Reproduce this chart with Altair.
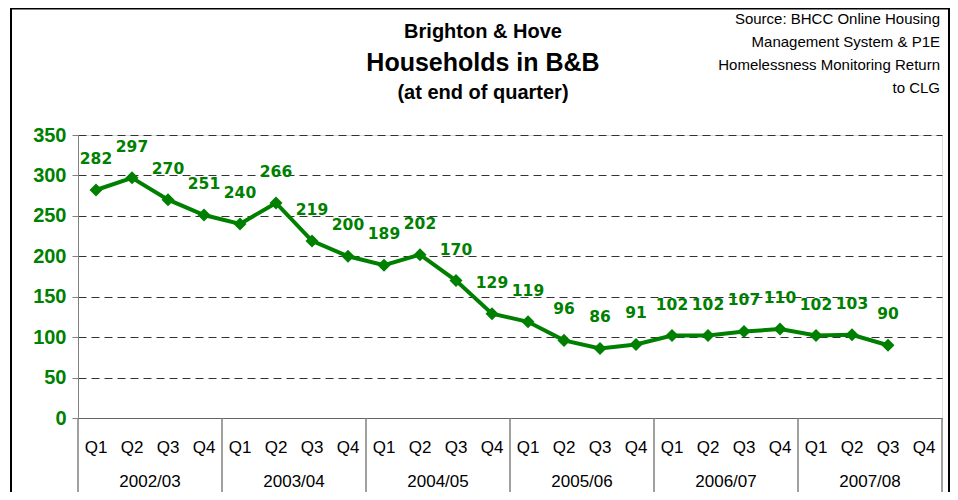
import altair as alt
import pandas as pd

years = ["2002/03", "2003/04", "2004/05", "2005/06", "2006/07", "2007/08"]
quarters = ["Q1", "Q2", "Q3", "Q4"]
values = [282, 297, 270, 251, 240, 266, 219, 200, 189, 202, 170, 129,
          119, 96, 86, 91, 102, 102, 107, 110, 102, 103, 90, None]
y_ticks = [0, 50, 100, 150, 200, 250, 300, 350]
title_lines = ["Brighton & Hove", "Households in B&B", "(at end of quarter)"]
source_lines = ["Source: BHCC Online Housing", "Management System & P1E",
                "Homelessness Monitoring Return", "to CLG"]

rows = []
for i, yr in enumerate(years):
    for j, q in enumerate(quarters):
        rows.append({"key": f"{yr} {q}", "year": yr, "quarter": q,
                     "value": values[i * 4 + j]})
df = pd.DataFrame(rows)
keys = list(df["key"])
dv = df.dropna().copy()

groups = pd.DataFrame({
    "year": years,
    "start": [f"{y} Q1" for y in years],
    "mid": [f"{y} Q2" for y in years],
})
end_df = pd.DataFrame({"end": [keys[-1]]})

GREEN = "#008000"
FONT = "Liberation Sans"

xscale = alt.Scale(type="band", domain=keys, paddingInner=0, paddingOuter=0)
yscale = alt.Scale(domain=[0, 350], nice=False)

x_axis = alt.Axis(title=None, labelExpr="substring(datum.value, 8)", labelAngle=0,
                  ticks=False, tickSize=0, labelPadding=29, labelBaseline="middle",
                  labelFontSize=17, labelColor="black", labelFont=FONT,
                  domainColor="#666666", domainWidth=1, grid=False)
y_axis = alt.Axis(title=None, values=y_ticks, labelFontSize=20, labelFontWeight="bold",
                  labelColor=GREEN, labelFont=FONT, labelPadding=6,
                  grid=True, gridDash=[8, 5], gridColor="#333333", gridWidth=1,
                  domainColor="#808080", tickColor="#808080", tickSize=6)

base = alt.Chart(dv)

line = base.mark_line(color=GREEN, strokeWidth=4).encode(
    x=alt.X("key:N", scale=xscale, sort=keys, axis=x_axis),
    y=alt.Y("value:Q", scale=yscale, axis=y_axis),
)
points = base.mark_point(shape="diamond", filled=True, size=170, color=GREEN,
                         opacity=1).encode(x="key:N", y="value:Q")
labels = base.mark_text(dy=-31, fontSize=15.5, fontWeight="bold", font="DejaVu Sans",
                        color=GREEN, baseline="middle").encode(
    x="key:N", y="value:Q", text=alt.Text("value:Q", format="d"))

seps = alt.Chart(groups).mark_rule(color="#808080", strokeWidth=1.5).encode(
    x=alt.X("start:N", bandPosition=0), y=alt.value(283), y2=alt.value(370))
end_sep = alt.Chart(end_df).mark_rule(color="#808080", strokeWidth=1.5).encode(
    x=alt.X("end:N", bandPosition=1), y=alt.value(283), y2=alt.value(370))
ylab = alt.Chart(groups).mark_text(fontSize=17, font=FONT, color="black",
                                   baseline="middle").encode(
    x=alt.X("mid:N", bandPosition=1), y=alt.value(347), text="year:N")

one = pd.DataFrame({"a": [0]})
t1 = alt.Chart(one).mark_text(text=title_lines[0], fontSize=20, fontWeight="bold",
                              font=FONT, baseline="middle").encode(
    x=alt.value(405), y=alt.value(-103))
t2 = alt.Chart(one).mark_text(text=title_lines[1], fontSize=25, fontWeight="bold",
                              font=FONT, baseline="middle").encode(
    x=alt.value(405), y=alt.value(-72))
t3 = alt.Chart(one).mark_text(text=title_lines[2], fontSize=20, fontWeight="bold",
                              font=FONT, baseline="middle").encode(
    x=alt.value(405), y=alt.value(-42))
src = alt.Chart(one).mark_text(text=source_lines, fontSize=15, font=FONT,
                               align="right", baseline="middle", lineHeight=23).encode(
    x=alt.value(862), y=alt.value(-116))
border = alt.Chart(one).mark_rect(filled=False, stroke="black", strokeWidth=2).encode(
    x=alt.value(-67), x2=alt.value(871), y=alt.value(-126.5), y2=alt.value(420))

chart = alt.layer(line, seps, end_sep, ylab, points, labels, t1, t2, t3, src, border).properties(
    width=864, height=283,
    padding={"left": 70, "top": 127, "right": 8, "bottom": 74},
    autosize=alt.AutoSizeParams(type="none"),
).configure_view(stroke=None).configure(background="white")

chart.save("out.html", embed_options={"renderer": "svg", "actions": False})
